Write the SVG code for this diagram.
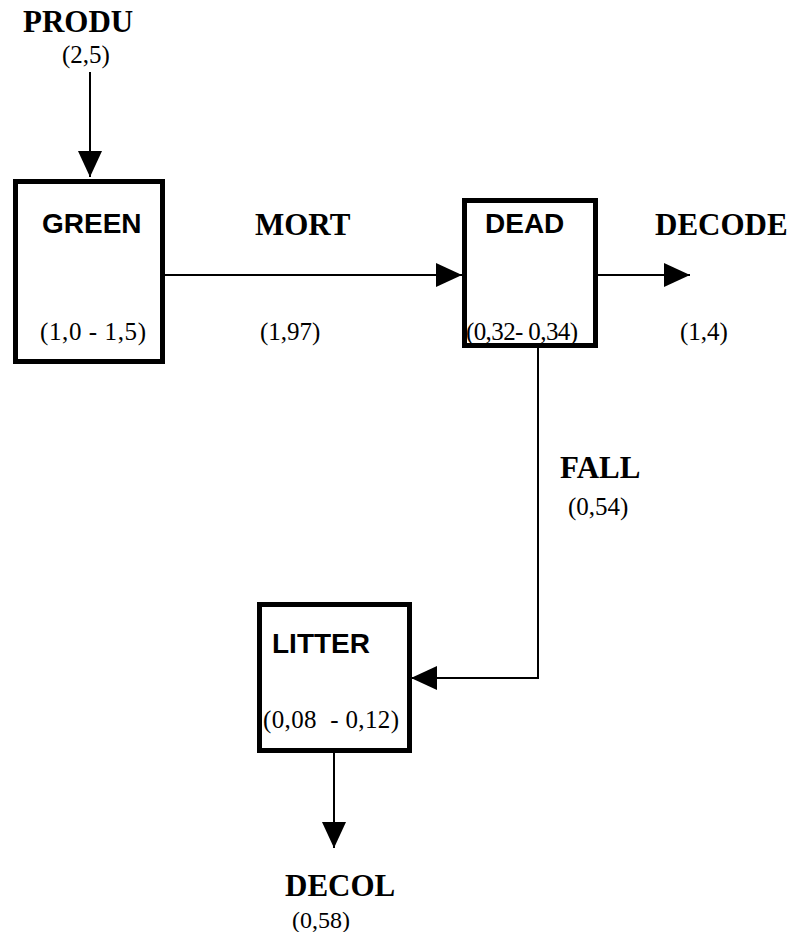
<svg xmlns="http://www.w3.org/2000/svg" width="790" height="932" viewBox="0 0 790 932">
<style>
.box{fill:#fff;stroke:#000;stroke-width:5}
.con{fill:none;stroke:#000;stroke-width:2}
.lbl{font-family:"Liberation Serif","Times New Roman",serif;font-weight:bold;font-size:31px;fill:#000}
.num{font-family:"Liberation Serif","Times New Roman",serif;font-size:25px;fill:#000;white-space:pre}
.name{font-family:"Liberation Sans",Arial,sans-serif;font-weight:bold;font-size:28px;fill:#000}
</style>
<defs>
<marker id="ah" markerUnits="userSpaceOnUse" markerWidth="26" markerHeight="24" refX="26" refY="12" orient="auto">
<path d="M0,0 L26,12 L0,24 z" fill="#000"/>
</marker>
</defs>
<rect width="790" height="932" fill="#fff"/>
<g id="connectors">
<line class="con" x1="90" y1="72" x2="90" y2="177" marker-end="url(#ah)"/>
<line class="con" x1="165" y1="275" x2="462" y2="275" marker-end="url(#ah)"/>
<line class="con" x1="598" y1="275" x2="690" y2="275" marker-end="url(#ah)"/>
<path class="con" d="M538,348 V678 H411" marker-end="url(#ah)"/>
<line class="con" x1="334" y1="753" x2="334" y2="848" marker-end="url(#ah)"/>
</g>
<g id="green">
<rect class="box" x="15.5" y="181.5" width="147" height="180"/>
<text class="name" x="42" y="233">GREEN</text>
<text class="num" x="40" y="340" textLength="106">(1,0 - 1,5)</text>
</g>
<g id="dead">
<rect class="box" x="464.5" y="200.5" width="131" height="145"/>
<text class="name" x="485" y="233">DEAD</text>
<text class="num" x="466" y="340" textLength="112">(0,32- 0,34)</text>
</g>
<g id="litter">
<rect class="box" x="259.5" y="604.5" width="150" height="146"/>
<text class="name" x="272" y="653">LITTER</text>
<text class="num" x="263" y="728" textLength="136">(0,08  - 0,12)</text>
</g>
<g id="labels">
<text class="lbl" x="23" y="32">PRODU</text>
<text class="num" x="86" y="63" text-anchor="middle">(2,5)</text>
<text class="lbl" x="255" y="235">MORT</text>
<text class="num" x="260" y="340">(1,97)</text>
<text class="lbl" x="655" y="235">DECODE</text>
<text class="num" x="680" y="340">(1,4)</text>
<text class="lbl" x="560" y="478">FALL</text>
<text class="num" x="568" y="515">(0,54)</text>
<text class="lbl" x="285" y="896">DECOL</text>
<text class="num" x="292" y="928" style="font-size:24px">(0,58)</text>
</g>
</svg>
